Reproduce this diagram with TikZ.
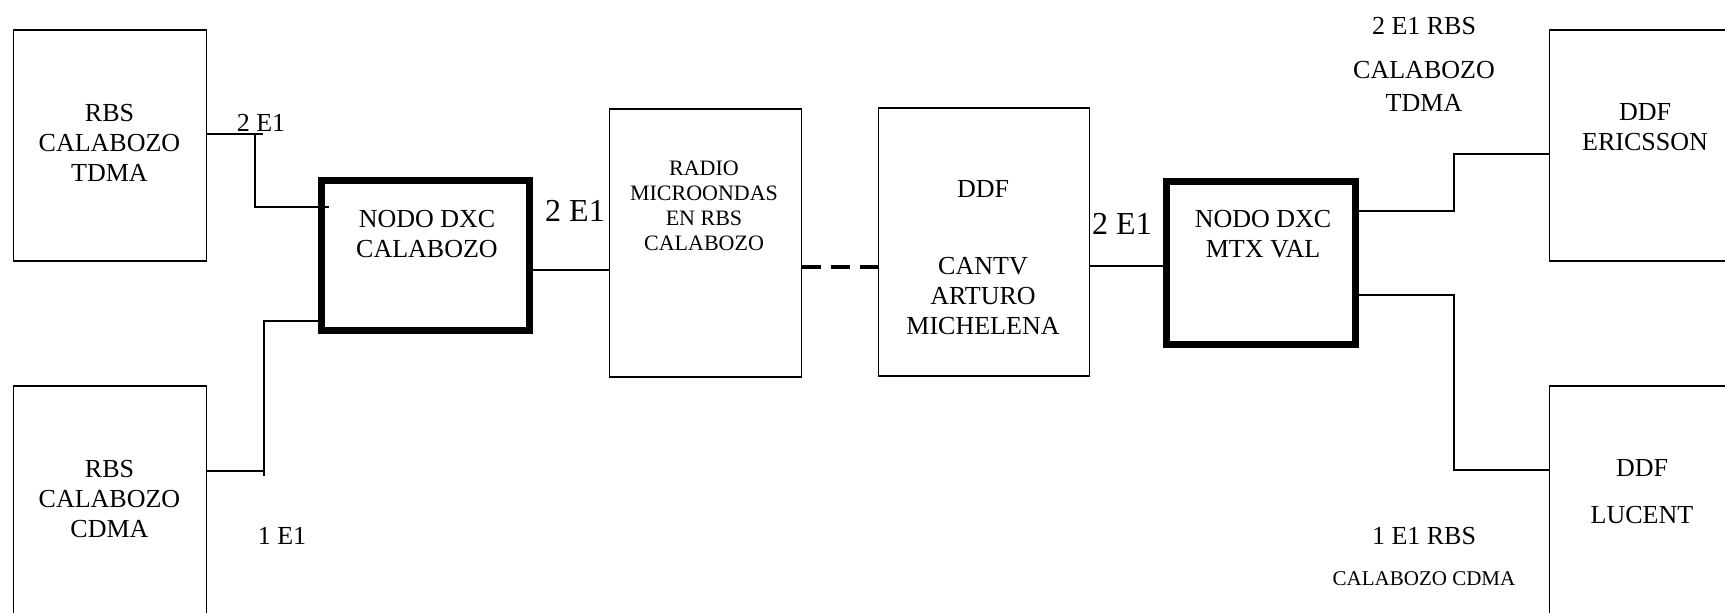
\documentclass[tikz,border=0pt]{standalone}
\usepackage{fontspec}
\setmainfont{Liberation Serif}
\usetikzlibrary{calc}
\begin{document}
\begin{tikzpicture}[x=0.5pt,y=-0.5pt,
  box/.style={draw, line width=0.75pt, inner sep=0pt, anchor=north west},
  thickbox/.style={draw, line width=3.5pt, inner sep=0pt, anchor=north west},
  wire/.style={line width=0.75pt},
  dwire/.style={line width=2pt, dash pattern=on 9.5pt off 5pt},
  txt/.style={align=center, inner sep=0pt, font=\fontsize{13}{15}\selectfont},
  smalltxt/.style={align=center, inner sep=0pt, font=\fontsize{11}{12.5}\selectfont},
  bigtxt/.style={align=center, inner sep=0pt, font=\fontsize{16}{18}\selectfont}
]
\useasboundingbox (0,0) rectangle (1725,613);
\clip (0,0) rectangle (1725,613);

% boxes (anchors sit on the outer edge of the border)
\node[box, minimum width=96.5pt, minimum height=115.5pt] (tdma) at (12.5,29.5) {};
\node[box, minimum width=96.5pt, minimum height=137pt] (cdma) at (12.5,385.5) {};
\node[thickbox, minimum width=104pt, minimum height=75.2pt] (dxc1) at (318,177) {};
\node[box, minimum width=96pt, minimum height=134pt] (radio) at (608.5,108.5) {};
\node[box, minimum width=105.5pt, minimum height=134pt] (cantv) at (877.5,107.5) {};
\node[thickbox, minimum width=94.3pt, minimum height=81.5pt] (dxc2) at (1163,178) {};
\node[box, minimum width=95.5pt, minimum height=115.5pt] (eric) at (1548.5,29.5) {};
\node[box, minimum width=95.5pt, minimum height=137pt] (luc) at (1548.5,385.5) {};

% box texts
\node[txt] (tdmat) at (109.5,142.5) {RBS\\CALABOZO\\TDMA};
\node[txt] (cdmat) at (109.5,499) {RBS\\CALABOZO\\CDMA};
\node[txt] (dxc1t) at (427,234) {NODO DXC\\CALABOZO};
\node[smalltxt] (radiot) at (704,205.5) {RADIO\\MICROONDAS\\EN RBS\\CALABOZO};
\node[txt] (cantvt1) at (983,189) {DDF};
\node[txt] (cantvt2) at (983,296.5) {CANTV\\ARTURO\\MICHELENA};
\node[txt] (dxc2t) at (1263,234) {NODO DXC\\MTX VAL};
\node[txt] (erict) at (1645,127) {DDF\\ERICSSON};
\node[txt] (luct1) at (1642,468) {DDF};
\node[txt] (luct2) at (1642,515) {LUCENT};

% labels
\node[txt] (l1) at (261,123) {2 E1};
\node[txt] (l2) at (282,536) {1 E1};
\node[bigtxt] (l3) at (575,211) {2 E1};
\node[bigtxt] (l4) at (1122,224) {2 E1};
\node[txt] (l5) at (1424,26) {2 E1 RBS};
\node[txt, font=\fontsize{13}{16.5}\selectfont] (l6) at (1424,86.5) {CALABOZO\\TDMA};
\node[txt] (l7) at (1424,536) {1 E1 RBS};
\node[txt, font=\fontsize{10.5}{12}\selectfont] (l8) at (1424,579) {CALABOZO CDMA};

% connectors
\draw[wire] (tdma.east |- 0,134) -- (263,134);
\draw[wire] (255,134) -- (255,207) -- ($(dxc1.west |- 0,207)+(11,0)$);
\draw[wire] (cdma.east |- 0,471) -- (264,471);
\draw[wire] (264,476) -- (264,321) -- (dxc1.west |- 0,321);
\draw[wire] (dxc1.east |- 0,270) -- (radio.west |- 0,270);
\draw[dwire] (radio.east |- 0,267) -- (cantv.west |- 0,267);
\draw[wire] (cantv.east |- 0,266) -- (dxc2.west |- 0,266);
\draw[wire] (dxc2.east |- 0,211) -| (1454,154) -- (eric.west |- 0,154);
\draw[wire] (dxc2.east |- 0,295) -| (1454,470) -- (luc.west |- 0,470);
\end{tikzpicture}
\end{document}
